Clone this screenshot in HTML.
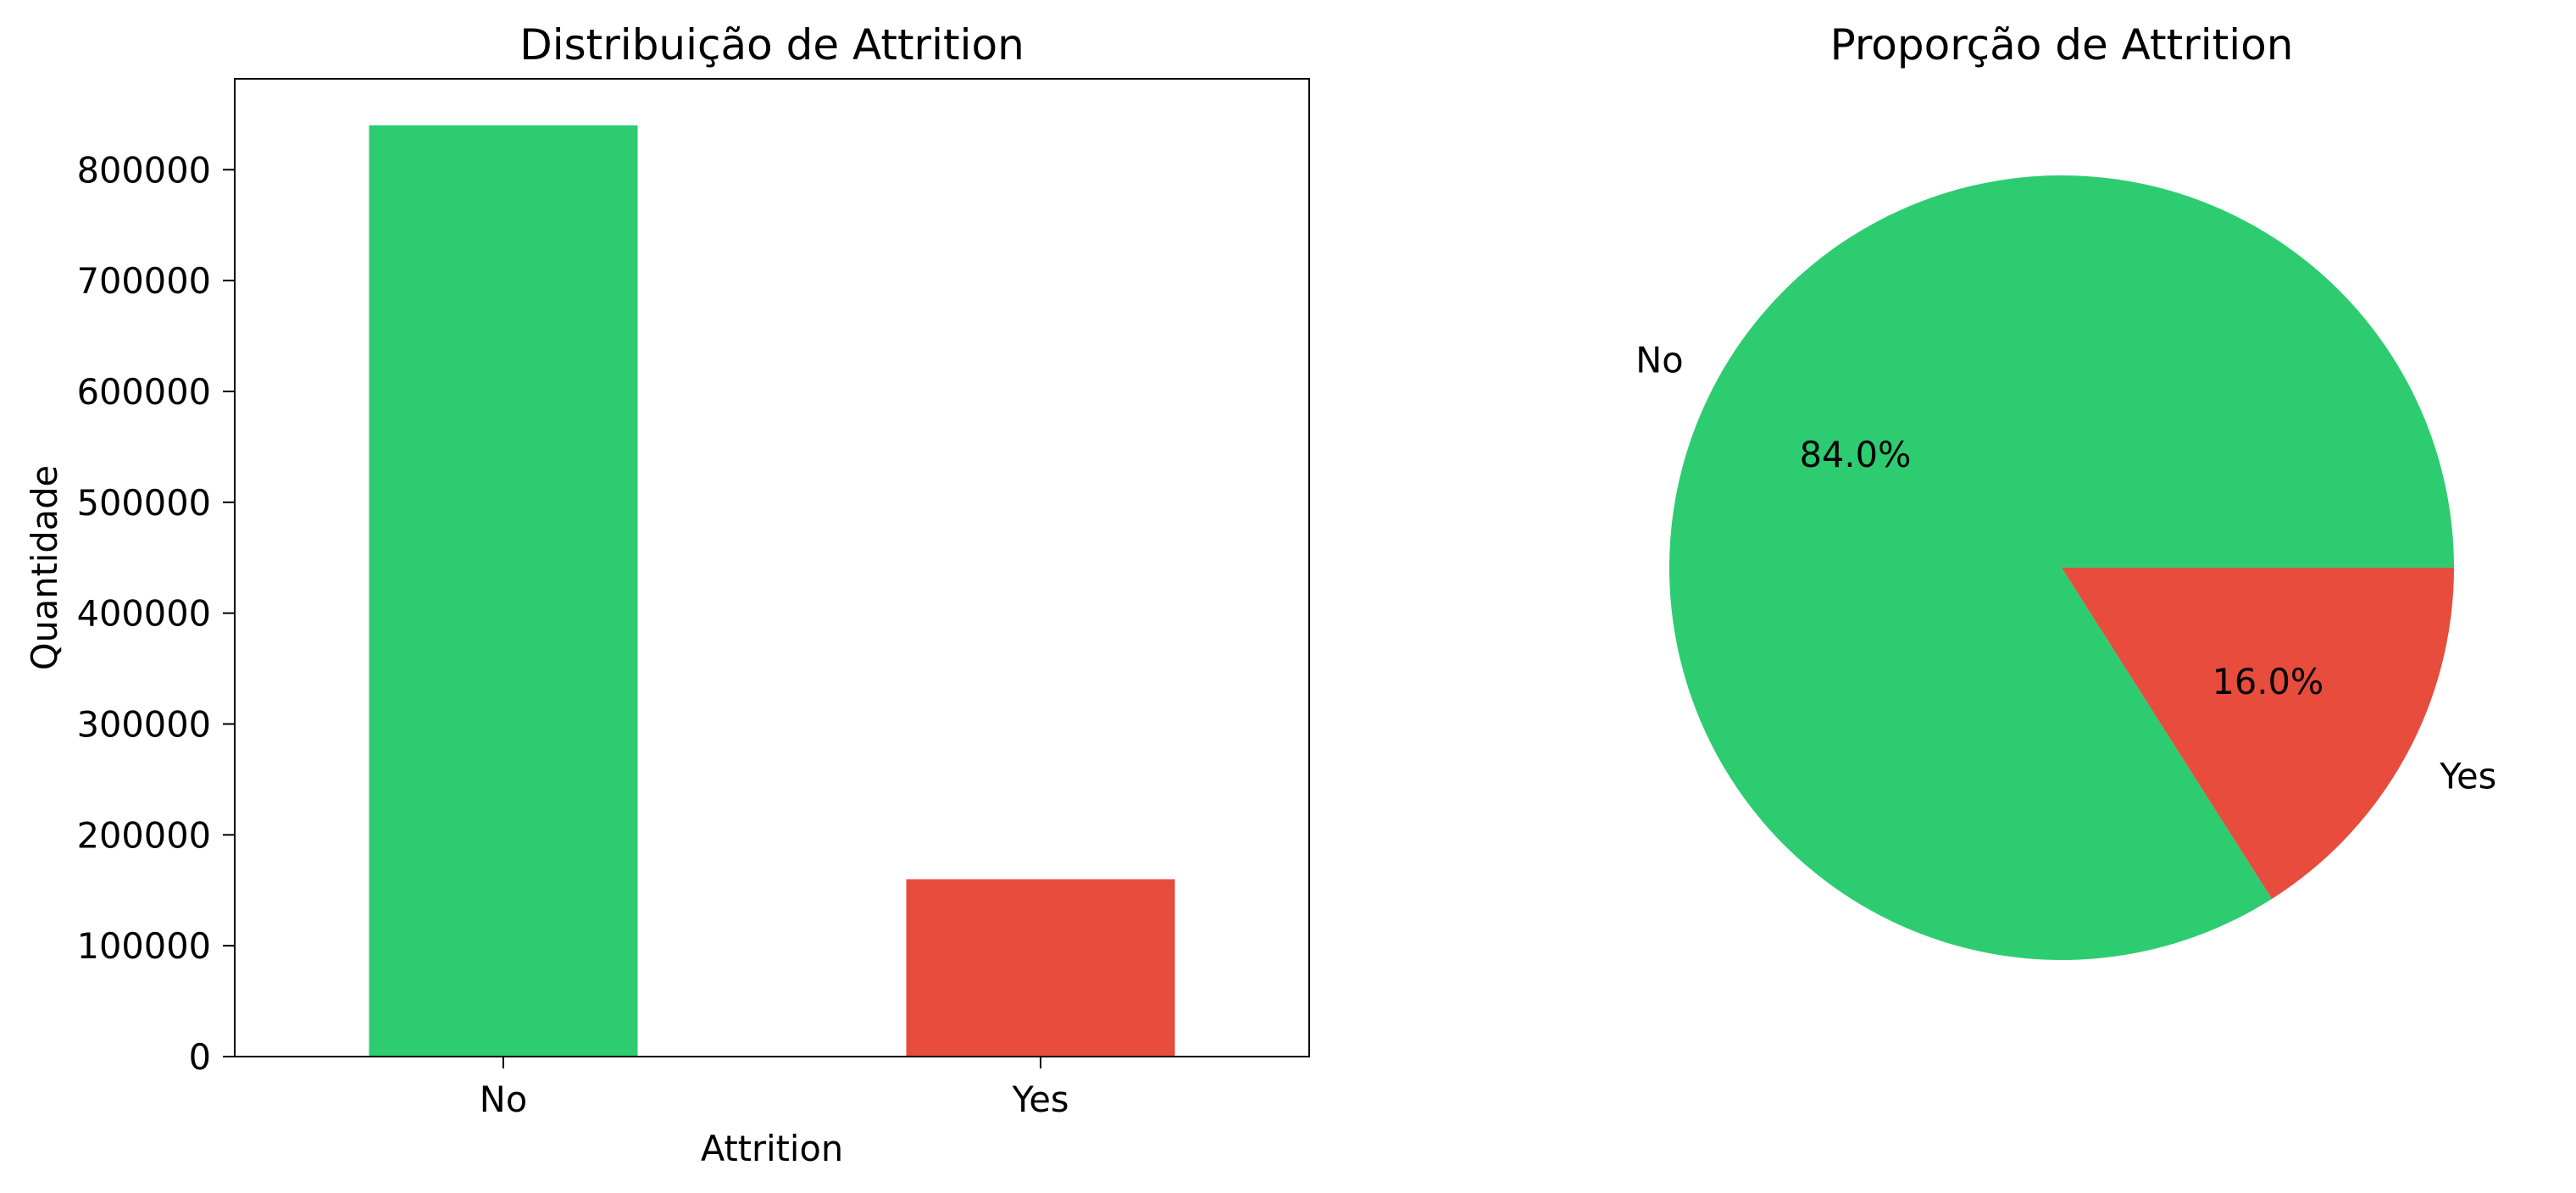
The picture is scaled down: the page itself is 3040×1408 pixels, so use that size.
<!DOCTYPE html>
<html><head><meta charset="utf-8"><style>
html,body{margin:0;padding:0;background:#fff}
svg{display:block;font-family:"DejaVu Sans","Liberation Sans",sans-serif}
</style></head><body>
<svg id="fig" width="3040" height="1408" viewBox="0 0 3040 1408" xmlns="http://www.w3.org/2000/svg">
<rect width="3040" height="1408" fill="#fff"/>
<g id="bar"></g>
<g id="pie"></g>
</svg>
<script>
const categories = ["No", "Yes"];
const counts = [840000, 160000];
const yTicks = [0, 100000, 200000, 300000, 400000, 500000, 600000, 700000, 800000];
const pieLabels = ["No", "Yes"];
const pieValues = [84.0, 16.0];
const colors = ["#2ecc71", "#e74c3c"];

const NS = "http://www.w3.org/2000/svg";
const FS = 41.5, TFS = 50;
function mk(tag, attrs, parent, text) {
  const e = document.createElementNS(NS, tag);
  for (const k in attrs) e.setAttribute(k, attrs[k]);
  if (text !== undefined) e.textContent = text;
  parent.appendChild(e);
  return e;
}
// Bar chart
const bar = document.getElementById('bar');
const L = 277, R = 1545, T = 93, B = 1247;
const yMax = Math.max(...counts) * 1.05;
const ys = v => B - (v / yMax) * (B - T);
const xs = i => L + (i + 0.5) / categories.length * (R - L);
const bw = (R - L) / categories.length * 0.5;
categories.forEach((c, i) => {
  const r = mk('rect', {x: xs(i) - bw / 2, y: ys(counts[i]), width: bw, height: B - ys(counts[i]), fill: colors[i]}, bar);
  
  
  mk('line', {x1: xs(i), x2: xs(i), y1: B, y2: B + 14, stroke: '#000', 'stroke-width': 2}, bar);
  const t = mk('text', {x: xs(i), y: 1312, 'font-size': FS, 'text-anchor': 'middle'}, bar, c);
  
  
});
yTicks.forEach(v => {
  mk('line', {x1: L - 14, x2: L, y1: ys(v), y2: ys(v), stroke: '#000', 'stroke-width': 2}, bar);
  const t = mk('text', {x: L - 28, y: ys(v) + 15, 'font-size': FS, 'text-anchor': 'end'}, bar, String(v));
  
  
});
const frame = mk('rect', {x: L, y: T, width: R - L, height: B - T, fill: 'none', stroke: '#000', 'stroke-width': 2}, bar);


const t1 = mk('text', {x: (L + R) / 2, y: 70, 'font-size': TFS, 'text-anchor': 'middle'}, bar, 'Distribuição de Attrition');


const xl = mk('text', {x: (L + R) / 2, y: 1370, 'font-size': FS, 'text-anchor': 'middle'}, bar, 'Attrition');


const yl = mk('text', {x: 0, y: 0, 'font-size': FS, 'text-anchor': 'middle', transform: 'translate(67,' + (T + B) / 2 + ') rotate(-90)'}, bar, 'Quantidade');



// Pie chart
const pie = document.getElementById('pie');
const cx = 2433, cy = 670, r = 463;
const total = pieValues.reduce((a, b) => a + b, 0);
let a0 = 0;
pieValues.forEach((v, i) => {
  const a1 = a0 + v / total * 2 * Math.PI;
  const x0 = cx + r * Math.cos(a0), y0 = cy - r * Math.sin(a0);
  const x1 = cx + r * Math.cos(a1), y1 = cy - r * Math.sin(a1);
  const large = (a1 - a0) > Math.PI ? 1 : 0;
  const p = mk('path', {d: `M${cx},${cy} L${x0},${y0} A${r},${r} 0 ${large} 0 ${x1},${y1} Z`, fill: colors[i]}, pie);
  
  
  const am = (a0 + a1) / 2;
  const lx = cx + 1.1 * r * Math.cos(am), ly = cy - 1.1 * r * Math.sin(am);
  const lab = mk('text', {x: lx, y: ly + 15, 'font-size': FS, 'text-anchor': Math.cos(am) < 0 ? 'end' : 'start'}, pie, pieLabels[i]);
  
  
  const px = cx + 0.6 * r * Math.cos(am), py = cy - 0.6 * r * Math.sin(am);
  const pct = mk('text', {x: px, y: py + 15, 'font-size': FS, 'text-anchor': 'middle'}, pie, v.toFixed(1) + '%');
  
  
  a0 = a1;
});
const t2 = mk('text', {x: cx, y: 70, 'font-size': TFS, 'text-anchor': 'middle'}, pie, 'Proporção de Attrition');


</script>
</body></html>
